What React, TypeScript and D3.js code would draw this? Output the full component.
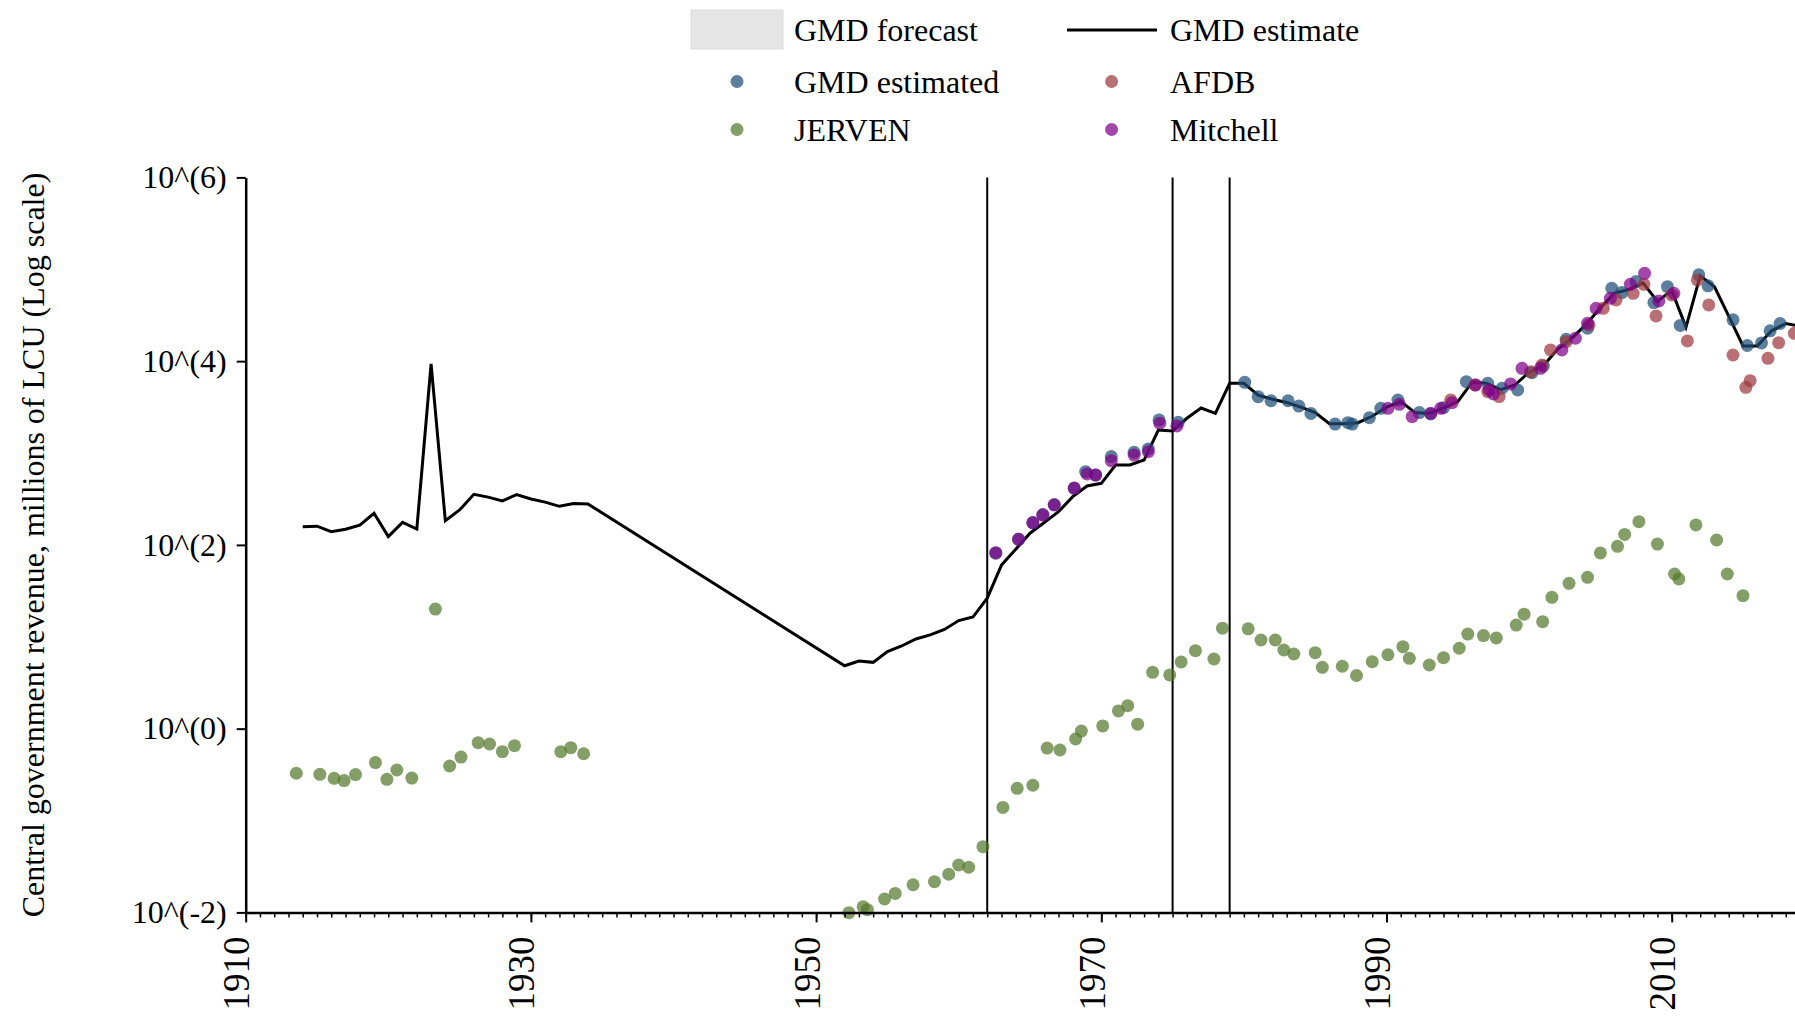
import React, { useEffect, useRef } from 'react';
import * as d3 from 'd3';

// GMD estimate (black line), millions of LCU
const lineYears = [1914, 1915, 1916, 1917, 1918, 1919, 1920, 1921, 1922, 1923, 1924, 1925, 1926, 1927, 1928, 1929, 1930, 1931, 1932, 1933, 1934,
  1952, 1953, 1954, 1955, 1956, 1957, 1958, 1959, 1960, 1961, 1962, 1963, 1964, 1965, 1966, 1967, 1968, 1969, 1970,
  1971, 1972, 1973, 1974, 1975, 1976, 1977, 1978, 1979, 1980, 1981, 1982, 1983, 1984, 1985, 1986, 1987, 1988, 1989, 1990,
  1991, 1992, 1993, 1994, 1995, 1996, 1997, 1998, 1999, 2000, 2001, 2002, 2003, 2004, 2005, 2006, 2007, 2008, 2009, 2010,
  2011, 2012, 2013, 2014, 2015, 2016, 2017, 2018, 2019];
const lineValues = [158, 160, 139, 148, 164, 221, 123, 176, 149, 9330, 183, 240, 355, 331, 301, 352, 316, 292, 263, 282, 279,
  4.84, 5.45, 5.27, 6.89, 7.94, 9.46, 10.5, 12.0, 15.0, 16.4, 26.3, 60.3, 89.5, 134, 175, 230, 335, 438, 468,
  741, 741, 839, 1778, 1738, 2388, 3090, 2704, 5741, 5741, 4266, 3846, 3548, 3162, 2754, 2089, 2089, 2138, 2512, 3162,
  3631, 2754, 2692, 3090, 3631, 5888, 5754, 4898, 5495, 7586, 8913, 13490, 17780, 25120, 38020, 54950, 60260, 70790, 44670, 58880,
  23440, 85110, 64570, 30900, 14620, 14620, 21380, 25700, 23990];

// GMD estimated points
const gmdYears = [1962.6, 1964.2, 1965.2, 1965.9, 1966.7, 1968.1, 1968.9, 1969.6, 1970.7, 1972.3, 1973.3, 1974.05, 1975.4,
  1980.06, 1981.0, 1981.9, 1983.1, 1983.85, 1984.7, 1986.4, 1987.3, 1987.6, 1988.8, 1989.6, 1990.8, 1992.3, 1993.1, 1994.0,
  1995.6, 1997.1, 1998.1, 1999.2, 2000.2, 2001.0, 2002.6, 2004.1, 2005.8, 2006.5, 2007.5, 2008.75, 2009.7, 2010.6, 2011.9,
  2012.55, 2014.3, 2015.3, 2016.3, 2016.9, 2017.6];
const gmdValues = [81.3, 115, 174, 214, 275, 417, 627, 575, 914, 1019, 1107, 2291, 2158,
  5888, 4102, 3707, 3707, 3243, 2698, 2065, 2138, 2065, 2421, 3062, 3767, 2754, 2661, 3119,
  5984, 5741, 5070, 4853, 7499, 8872, 17300, 22800, 62100, 55700, 73500, 43400, 64700, 24500, 87100,
  66100, 28200, 14800, 15800, 21400, 25700];

// AFDB
const afdbYears = [1994.5, 1996.2, 1997.1, 1997.9, 2000.1, 2000.9, 2001.5, 2002.6, 2004.2, 2005.2, 2006.1, 2007.3, 2008.05,
  2008.9, 2010.0, 2011.1, 2011.8, 2012.6, 2014.3, 2015.5, 2015.2, 2016.75, 2017.5, 2018.6];
const afdbValues = [3784, 5508, 4656, 4111, 7691, 9078, 13240, 16290, 24770, 37580, 46340, 54700, 68550,
  31050, 52480, 16600, 76560, 40930, 11670, 6138, 5188, 10740, 15890, 20090];

// JERVEN
const jervenYears = [1913.55, 1915.2, 1916.2, 1916.9, 1917.7, 1919.1, 1919.9, 1920.6, 1921.65, 1923.3, 1924.3, 1925.1, 1926.3,
  1927.1, 1928.0, 1928.85, 1932.1, 1932.8, 1933.7,
  1952.3, 1953.3, 1953.6, 1954.8, 1955.55, 1956.8, 1958.3, 1959.3, 1960.0, 1960.7, 1961.7, 1963.1, 1964.1, 1965.2, 1966.2,
  1967.1, 1968.2, 1968.6, 1970.1, 1971.2, 1971.85, 1972.55, 1973.6, 1974.8, 1975.6, 1976.6, 1977.9, 1978.5, 1980.3, 1981.2,
  1982.2, 1982.8, 1983.5, 1985.0, 1985.5, 1986.9, 1987.9, 1989.0, 1990.1, 1991.15, 1991.6, 1993.0, 1994.0, 1995.1, 1995.7,
  1996.8, 1997.7, 1999.1, 1999.65, 2000.95, 2001.6, 2002.8, 2004.1, 2005.0, 2006.2, 2006.7, 2007.7, 2009.0, 2010.2, 2010.5,
  2011.7, 2013.15, 2013.9, 2015.0];
const jervenValues = [0.327, 0.318, 0.288, 0.272, 0.316, 0.427, 0.281, 0.355, 0.29, 20.0, 0.392, 0.491, 0.703,
  0.681, 0.561, 0.652, 0.561, 0.621, 0.533,
  0.00993, 0.0115, 0.0107, 0.014, 0.0161, 0.02, 0.0216, 0.026, 0.0328, 0.031, 0.0519, 0.139, 0.224, 0.242, 0.615,
  0.586, 0.771, 0.942, 1.07, 1.56, 1.78, 1.12, 4.1, 3.84, 5.33, 7.06, 5.73, 12.4, 12.2, 9.23,
  9.23, 7.18, 6.49, 6.71, 4.65, 4.78, 3.79, 5.36, 6.37, 7.8, 5.83, 4.93, 5.92, 7.5, 10.7,
  10.3, 9.7, 13.4, 17.6, 14.6, 26.9, 38.2, 44.4, 81.7, 96.6, 130, 179, 102, 48.2, 42.6,
  165, 113, 48.2, 28.0];

// Mitchell
const mitchellYears = [1962.6, 1964.2, 1965.2, 1965.9, 1966.7, 1968.1, 1969.0, 1969.6, 1970.7, 1972.3, 1973.3, 1974.1, 1975.3,
  1990.1, 1990.9, 1991.8, 1993.1, 1993.8, 1994.6, 1996.25, 1997.2, 1997.5, 1998.7, 1999.5, 2000.8, 2002.3, 2003.25, 2004.1,
  2004.7, 2005.7, 2007.1, 2008.1, 2009.1, 2010.15];
const mitchellValues = [82.2, 115, 175, 211, 272, 413, 592, 577, 826, 951, 1033, 2109, 1972,
  3069, 3388, 2489, 2704, 3069, 3532, 5508, 4853, 4395, 5649, 8356, 8356, 13240, 17740, 25820,
  37580, 48310, 68550, 90360, 45190, 54700];

const markerYears = [1962, 1975, 1979];
const majorTicks = [1910, 1930, 1950, 1970, 1990, 2010];
const yTicks = [1e-2, 1, 1e2, 1e4, 1e6];

const FONT = "'Liberation Serif', 'Times New Roman', serif";

const App: React.FC = () => {
  const chartRef = useRef<SVGSVGElement>(null);

  useEffect(() => {
    if (!chartRef.current) return;
    const svg = d3.select(chartRef.current);
    svg.selectAll('*').remove();

    const x = d3.scaleLinear().domain([1910, 2020]).range([245.7, 245.7 + 110 * 14.26]);
    const y = d3.scaleLog().domain([1e-2, 1e6]).range([912.4, 177.4]);

    // vertical marker lines
    svg
      .append('g')
      .selectAll('line')
      .data(markerYears)
      .join('line')
      .attr('x1', (d) => x(d))
      .attr('x2', (d) => x(d))
      .attr('y1', y(1e6))
      .attr('y2', y(1e-2))
      .attr('stroke', '#000')
      .attr('stroke-width', 2);

    // GMD estimate line
    const lineData = lineYears.map((yr, i) => ({ year: yr, value: lineValues[i] }));
    const line = d3
      .line<{ year: number; value: number }>()
      .x((d) => x(d.year))
      .y((d) => y(d.value));
    svg
      .append('path')
      .datum(lineData)
      .attr('fill', 'none')
      .attr('stroke', '#000')
      .attr('stroke-width', 3)
      .attr('d', line);

    // scatter series
    const series = [
      { years: gmdYears, values: gmdValues, color: '#1f4e79' },
      { years: afdbYears, values: afdbValues, color: '#9c3940' },
      { years: jervenYears, values: jervenValues, color: '#54782d' },
      { years: mitchellYears, values: mitchellValues, color: '#80008b' },
    ];
    series.forEach((s) => {
      svg
        .append('g')
        .selectAll('circle')
        .data(s.years.map((yr, i) => ({ year: yr, value: s.values[i] })))
        .join('circle')
        .attr('cx', (d) => x(d.year))
        .attr('cy', (d) => y(d.value))
        .attr('r', 6.5)
        .attr('fill', s.color)
        .attr('fill-opacity', 0.72);
    });

    // x axis: minor then major ticks
    const xMinor = svg.append('g').attr('transform', `translate(0,${y(1e-2)})`);
    xMinor.call(
      d3.axisBottom(x).tickValues(d3.range(1910, 2021)).tickSize(5).tickSizeOuter(0).tickFormat(() => '')
    );
    xMinor.select('.domain').attr('stroke-width', 2.5);
    xMinor.selectAll('.tick line').attr('stroke-width', 1.5);

    const xMajor = svg.append('g').attr('transform', `translate(0,${y(1e-2)})`);
    xMajor.call(d3.axisBottom(x).tickValues(majorTicks).tickSize(10).tickSizeOuter(0).tickFormat(d3.format('d')));
    xMajor.select('.domain').remove();
    xMajor.selectAll('.tick line').attr('stroke-width', 2);
    xMajor
      .selectAll('text')
      .attr('transform', 'rotate(-90)')
      .attr('x', -24)
      .attr('y', 3)
      .attr('dy', 0)
      .style('text-anchor', 'end')
      .style('font-family', FONT)
      .style('font-size', '37px')
      .attr('fill', '#000');

    // y axis
    const yAxis = svg.append('g').attr('transform', 'translate(245.7,0)');
    yAxis.call(
      d3
        .axisLeft(y)
        .tickValues(yTicks)
        .tickSize(9)
        .tickSizeOuter(0)
        .tickPadding(10)
        .tickFormat((d) => `10^(${Math.round(Math.log10(+d))})`)
    );
    yAxis.select('.domain').attr('stroke-width', 2.5);
    yAxis.selectAll('.tick line').attr('stroke-width', 2);
    yAxis.selectAll('text').style('font-family', FONT).style('font-size', '32px').attr('fill', '#000');

    svg
      .append('text')
      .attr('transform', 'translate(44,545) rotate(-90)')
      .attr('text-anchor', 'middle')
      .style('font-family', FONT)
      .style('font-size', '32px')
      .text('Central government revenue, millions of LCU (Log scale)');

    // legend
    const legend = svg.append('g').style('font-family', FONT).style('font-size', '32px');
    legend
      .append('rect')
      .attr('x', 691)
      .attr('y', 10)
      .attr('width', 92)
      .attr('height', 39)
      .attr('fill', '#e5e5e5')
      .attr('stroke', '#dcdcdc');
    legend.append('text').attr('x', 794).attr('y', 30).attr('dy', '0.35em').text('GMD forecast');
    legend
      .append('line')
      .attr('x1', 1067)
      .attr('x2', 1157)
      .attr('y1', 30)
      .attr('y2', 30)
      .attr('stroke', '#000')
      .attr('stroke-width', 3);
    legend.append('text').attr('x', 1170).attr('y', 30).attr('dy', '0.35em').text('GMD estimate');

    const dots = [
      { cx: 737, cy: 81.5, tx: 794, label: 'GMD estimated', color: '#1f4e79' },
      { cx: 1111.6, cy: 81.5, tx: 1170, label: 'AFDB', color: '#9c3940' },
      { cx: 737, cy: 129.5, tx: 794, label: 'JERVEN', color: '#54782d' },
      { cx: 1111.6, cy: 129.5, tx: 1170, label: 'Mitchell', color: '#80008b' },
    ];
    dots.forEach((d) => {
      legend.append('circle').attr('cx', d.cx).attr('cy', d.cy).attr('r', 6.5).attr('fill', d.color).attr('fill-opacity', 0.72);
      legend.append('text').attr('x', d.tx).attr('y', d.cy).attr('dy', '0.35em').text(d.label);
    });
  }, []);

  return (
    <svg
      ref={chartRef}
      width={1795}
      height={1017}
      style={{ position: 'absolute', left: 0, top: 0, background: '#fff' }}
    ></svg>
  );
};

export default App;
